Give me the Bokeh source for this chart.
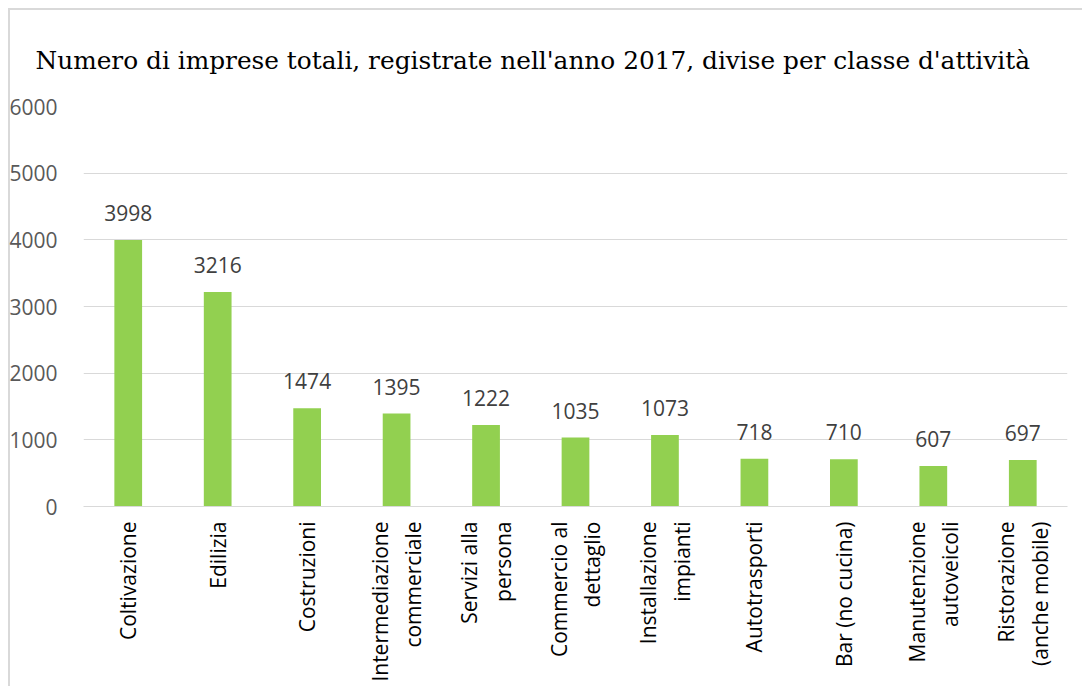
import math
from bokeh.plotting import figure
from bokeh.models import ColumnDataSource, Range1d, FactorRange, LabelSet, FixedTicker
from bokeh.core.properties import value
from bokeh.embed import file_html
from bokeh.resources import INLINE

categories = [
    "Coltivazione", "Edilizia", "Costruzioni", "Intermediazione\ncommerciale",
    "Servizi alla\npersona", "Commercio al\ndettaglio", "Installazione\nimpianti",
    "Autotrasporti", "Bar (no cucina)", "Manutenzione\nautoveicoli",
    "Ristorazione\n(anche mobile)",
]
values = [3998, 3216, 1474, 1395, 1222, 1035, 1073, 718, 710, 607, 697]
y_ticks = [0, 1000, 2000, 3000, 4000, 5000, 6000]
title_text = "Numero di imprese totali, registrate nell'anno 2017, divise per classe d'attività"

source = ColumnDataSource(dict(cat=categories, val=values, lbl=[str(v) for v in values]))

p = figure(
    width=1082, height=686,
    x_range=FactorRange(*categories, range_padding=0),
    y_range=Range1d(0, 6000),
    output_backend="svg", toolbar_location=None,
    min_border_left=83, min_border_right=15, min_border_top=106, min_border_bottom=180,
)
p.outline_line_color = None
p.border_fill_color = None
p.background_fill_color = "#ffffff"
p.styles = {
    "background-color": "#ffffff",
    "background-image": "linear-gradient(#d9d9d9, #d9d9d9), linear-gradient(#d9d9d9, #d9d9d9)",
    "background-size": "2px 100%, 100% 2px",
    "background-position": "8px 8px, 8px 8px",
    "background-repeat": "no-repeat",
}

p.title.text = title_text
p.title.align = "left"
p.title.offset = -48
p.title.text_font = "DejaVu Serif"
p.title.text_font_size = "24.8px"
p.title.text_font_style = "normal"
p.title.text_color = "#000000"
p.title.standoff = 64

p.vbar(x="cat", top="val", width=0.31, source=source, color="#92d050", line_color=None)

labels = LabelSet(x="cat", y="val", text="lbl", source=source, text_align="center",
                  text_baseline="middle", y_offset=27, text_font=value("Open Sans"),
                  text_font_size=value("21px"), text_color="#404040")
p.add_layout(labels)

p.xgrid.grid_line_color = None
p.ygrid.grid_line_color = "#d9d9d9"
p.ygrid.grid_line_width = 1
p.yaxis.ticker = FixedTicker(ticks=y_ticks)

p.yaxis.axis_line_color = None
p.yaxis.major_tick_line_color = None
p.yaxis.minor_tick_line_color = None
p.yaxis.major_label_standoff = 20
p.yaxis.major_label_text_font = "Open Sans"
p.yaxis.major_label_text_font_size = "21px"
p.yaxis.major_label_text_color = "#595959"

p.xaxis.axis_line_color = "#d9d9d9"
p.xaxis.major_tick_line_color = None
p.xaxis.major_tick_out = 0
p.xaxis.major_label_orientation = math.pi / 2
p.xaxis.major_label_standoff = 15
p.xaxis.major_label_text_font = "Open Sans"
p.xaxis.major_label_text_font_size = "21px"
p.xaxis.major_label_text_color = "#000000"

open("out.html", "w").write(file_html(p, INLINE))
